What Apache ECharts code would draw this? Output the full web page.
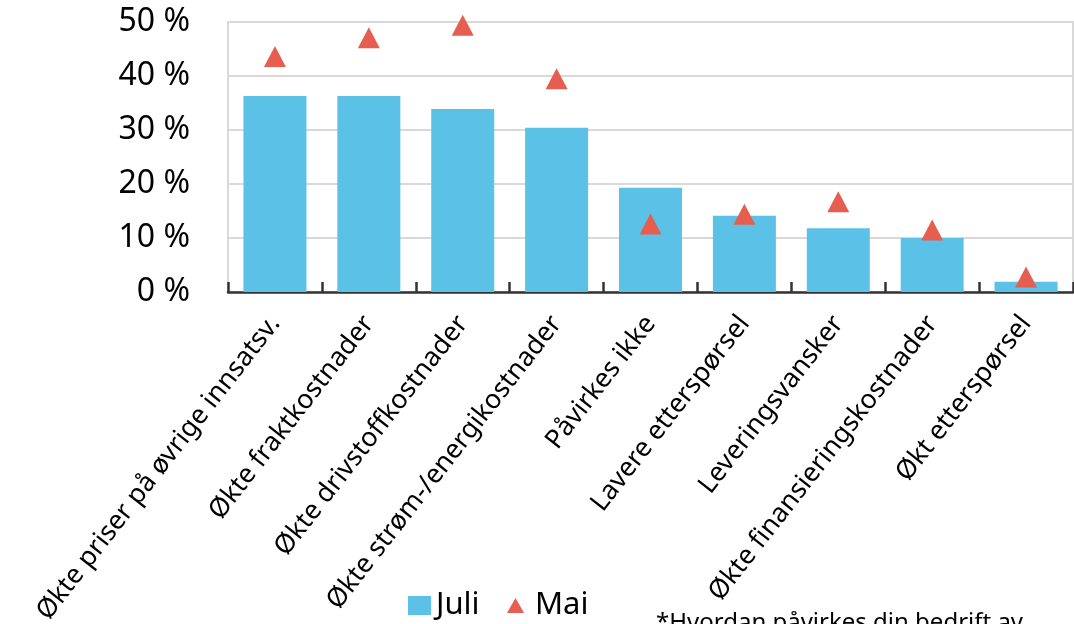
<!DOCTYPE html>
<html>
<head>
<meta charset="utf-8">
<script src="https://cdn.jsdelivr.net/npm/echarts@6/dist/echarts.min.js"></script>
<style>
html,body{margin:0;padding:0;background:#fff;}
#chart{width:1074px;height:624px;}
</style>
</head>
<body>
<div id="chart"></div>
<script>
const categories = ["Økte priser på øvrige innsatsv.", "Økte fraktkostnader", "Økte drivstoffkostnader", "Økte strøm-/energikostnader", "Påvirkes ikke", "Lavere etterspørsel", "Leveringsvansker", "Økte finansieringskostnader", "Økt etterspørsel"];
const juli = [36.3, 36.3, 33.9, 30.4, 19.3, 14.1, 11.8, 10.0, 1.9];
const mai = [43.6, 47.1, 49.4, 39.5, 12.6, 14.4, 16.7, 11.5, 2.8];
const yTicks = {min: 0, max: 50, interval: 10};
const noteText = "*Hvordan påvirkes din bedrift av";

const FONT = "Noto Sans";
const chart = echarts.init(document.getElementById('chart'));
chart.setOption({
  animation: false,
  backgroundColor: '#fff',
  textStyle: {fontFamily: FONT, color: '#000'},
  grid: {left: 228, right: 1, top: 22, bottom: 332, show: true, borderColor: '#d9d9d9', borderWidth: 2,
         containLabel: false, outerBoundsMode: 'none'},
  legend: [
    {data: [{name: 'Juli', icon: 'rect'}], left: 403, top: 585, itemWidth: 23, itemHeight: 19,
     textStyle: {fontFamily: FONT, fontSize: 31, color: '#000'}, itemGap: 0},
    {data: [{name: 'Mai', icon: 'triangle'}], left: 502, top: 585, itemWidth: 17, itemHeight: 15,
     textStyle: {fontFamily: FONT, fontSize: 31, color: '#000', padding: [0,0,0,6]}, itemGap: 0}
  ],
  xAxis: {
    type: 'category',
    data: categories,
    boundaryGap: true,
    axisLine: {lineStyle: {color: '#333', width: 2.5}},
    axisTick: {show: true, inside: true, length: 10, lineStyle: {color: '#333', width: 2.5}},
    axisLabel: {interval: 0, rotate: 52, fontSize: 26.5, color: '#000', fontFamily: FONT, margin: 27}
  },
  yAxis: {
    type: 'value',
    min: yTicks.min, max: yTicks.max, interval: yTicks.interval,
    axisLine: {show: false},
    axisTick: {show: false},
    splitLine: {lineStyle: {color: '#d9d9d9', width: 2}},
    axisLabel: {formatter: '{value} %', fontSize: 32, color: '#000', fontFamily: FONT, margin: 38}
  },
  series: [
    {name: 'Juli', type: 'bar', data: juli, barWidth: 63,
     itemStyle: {color: '#5bc1e6'}},
    {name: 'Mai', type: 'scatter', data: mai, symbol: 'triangle', symbolSize: [22, 21],
     itemStyle: {color: '#e65e50', opacity: 1}, z: 5}
  ],
  graphic: [
    {type: 'text', left: 656, top: 611, style: {text: noteText, fontSize: 24, fontFamily: FONT, fill: '#000'}}
  ]
});
</script>
</body>
</html>
